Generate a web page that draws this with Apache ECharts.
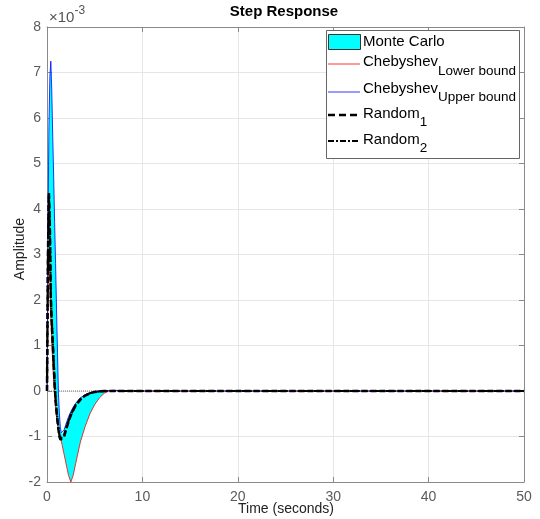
<!DOCTYPE html>
<html><head><meta charset="utf-8">
<script src="https://cdn.jsdelivr.net/npm/echarts@6/dist/echarts.min.js"></script>
<style>html,body{margin:0;padding:0;background:#fff}#c{width:540px;height:519px}</style>
</head><body><div id="c"></div>
<script>
// values in units of 1e-3
const time       = [0,0.1,0.2,0.3,0.4,0.5,0.6,0.7,0.8,0.9,1.0,1.1,1.2,1.3,1.4,1.5,1.6,1.8,2.0,2.25,2.5,2.75,3.0,3.5,4.0,4.5,5.0,5.5,6.0,6.5,7,8,9,10,20,30,40,50];
const upperBound = [0,3.5,5.8,6.9,7.25,6.6,5.6,4.7,3.7,2.8,1.8,0.85,-0.05,-0.5,-0.8,-0.92,-0.95,-0.85,-0.72,-0.57,-0.45,-0.35,-0.27,-0.15,-0.08,-0.04,-0.015,0,0.005,0.01,0.015,0.01,0.005,0,0,0,0,0];
const lowerBound = [0,2.0,3.0,2.6,1.6,1.1,0.6,0.2,-0.1,-0.38,-0.58,-0.72,-0.85,-0.95,-1.02,-1.1,-1.2,-1.4,-1.6,-1.85,-2.0,-1.85,-1.6,-1.12,-0.78,-0.5,-0.3,-0.15,-0.05,0,0.005,0.005,0,0,0,0,0,0];
const random1    = [0,3.0,4.35,3.6,2.0,1.5,1.05,0.6,0.15,-0.2,-0.45,-0.65,-0.85,-1.0,-1.07,-1.1,-1.1,-1.0,-0.85,-0.68,-0.53,-0.42,-0.32,-0.19,-0.1,-0.05,-0.02,-0.01,0,0,0,0,0,0,0,0,0,0];
const random2    = [0,2.9,4.3,3.5,2.1,1.55,1.1,0.65,0.2,-0.15,-0.42,-0.63,-0.82,-0.97,-1.05,-1.08,-1.07,-0.97,-0.83,-0.66,-0.52,-0.41,-0.31,-0.18,-0.1,-0.05,-0.02,-0.01,0,0,0,0,0,0,0,0,0,0];
const xTicks = [0,10,20,30,40,50];
const yTicks = [-2,-1,0,1,2,3,4,5,6,7,8];

const FONT = "'Liberation Sans', Arial, sans-serif";
const pair = arr => time.map((t,i)=>[t, arr[i]]);

const cvs = document.createElement('canvas').getContext('2d');
function tw(txt, size){ cvs.font = size + 'px ' + FONT; return cvs.measureText(txt).width; }

const chart = echarts.init(document.getElementById('c'), null, {renderer:'canvas'});
const axisCol = '#8a8a8a';
const lx = 363;
const MAIN = 15, SUB = 13.5;
function mainSub(main, sub, yMain, ySub){
  const w = tw(main, MAIN);
  return [
    {type:'text', x:lx, y:yMain, style:{text:main, font:MAIN+'px '+FONT, fill:'#000', verticalAlign:'middle'}},
    {type:'text', x:lx+w, y:ySub, style:{text:sub, font:SUB+'px '+FONT, fill:'#000', verticalAlign:'middle'}}
  ];
}
const graphic = [
  {type:'text', x:284, y:12, style:{text:'Step Response', font:'bold 15px '+FONT, fill:'#000', align:'center', verticalAlign:'middle'}},
  {type:'text', x:49, y:18, style:{text:'\u00d710', font:'15px '+FONT, fill:'#555', verticalAlign:'middle'}},
  {type:'text', x:49+tw('\u00d710',15), y:11, style:{text:'-3', font:'12px '+FONT, fill:'#555', verticalAlign:'middle'}},
  {type:'text', x:286, y:509, style:{text:'Time (seconds)', font:'14px '+FONT, fill:'#222', align:'center', verticalAlign:'middle'}},
  {type:'text', x:20, y:249, rotation:Math.PI/2, style:{text:'Amplitude', font:'14px '+FONT, fill:'#222', align:'center', verticalAlign:'middle'}},
  {type:'rect', shape:{x:326.5, y:30.5, width:193, height:128}, style:{fill:'#fff', stroke:'#666', lineWidth:1}},
  {type:'rect', shape:{x:328.5, y:34.5, width:32, height:15}, style:{fill:'#00ffff', stroke:'#333', lineWidth:1}},
  {type:'line', shape:{x1:328, y1:64, x2:360, y2:64}, style:{stroke:'#ff0000', lineWidth:0.8}},
  {type:'line', shape:{x1:328, y1:92, x2:360, y2:92}, style:{stroke:'#0000ff', lineWidth:0.8}},
  {type:'line', shape:{x1:328, y1:115, x2:360, y2:115}, style:{stroke:'#000', lineWidth:2.5, lineDash:[7,4]}},
  {type:'line', shape:{x1:328, y1:141, x2:360, y2:141}, style:{stroke:'#000', lineWidth:2.2, lineDash:[6,2,2,2]}},
  {type:'text', x:lx, y:42, style:{text:'Monte Carlo', font:MAIN+'px '+FONT, fill:'#000', verticalAlign:'middle'}}
].concat(mainSub('Chebyshev','Lower bound',62,71))
 .concat(mainSub('Chebyshev','Upper bound',89,97))
 .concat(mainSub('Random','1',114,122))
 .concat(mainSub('Random','2',140,148))
 .map(e => Object.assign({z:100}, e));

const lineBase = {type:'line', showSymbol:false, symbol:'none', animation:false, silent:true};
chart.setOption({
  animation:false,
  grid:{left:47, right:16, top:27, bottom:37, containLabel:false},
  xAxis:[
    {type:'value', min:0, max:50, interval:10,
     axisLine:{show:true, onZero:false, lineStyle:{color:axisCol}},
     axisTick:{inside:true, length:5, lineStyle:{color:axisCol}},
     axisLabel:{fontSize:14, color:'#5a5a5a', fontFamily:FONT, margin:8, formatter:v=>xTicks.includes(v)?String(v):''},
     splitLine:{show:true, lineStyle:{color:'#e6e6e6'}}},
    {type:'value', position:'top', min:0, max:50, interval:10,
     axisLine:{show:true, onZero:false, lineStyle:{color:axisCol}},
     axisTick:{inside:true, length:5, lineStyle:{color:axisCol}},
     axisLabel:{show:false}, splitLine:{show:false}}
  ],
  yAxis:[
    {type:'value', min:-2, max:8, interval:1,
     axisLine:{show:true, onZero:false, lineStyle:{color:axisCol}},
     axisTick:{inside:true, length:5, lineStyle:{color:axisCol}},
     axisLabel:{fontSize:14, color:'#5a5a5a', fontFamily:FONT, margin:6, formatter:v=>yTicks.includes(v)?String(v):''},
     splitLine:{show:true, lineStyle:{color:'#e6e6e6'}}},
    {type:'value', position:'right', min:-2, max:8, interval:1,
     axisLine:{show:true, onZero:false, lineStyle:{color:axisCol}},
     axisTick:{inside:true, length:5, lineStyle:{color:axisCol}},
     axisLabel:{show:false}, splitLine:{show:false}}
  ],
  series:[
    {type:'custom', name:'Monte Carlo', silent:true, animation:false, z:2, data:[0],
     renderItem:function(params, api){
       const pts = [];
       for (let i=0;i<time.length;i++) pts.push(api.coord([time[i], upperBound[i]]));
       for (let i=time.length-1;i>=0;i--) pts.push(api.coord([time[i], lowerBound[i]]));
       return {type:'polygon', shape:{points:pts}, style:{fill:'#00ffff', stroke:null}};
     }},
    Object.assign({}, lineBase, {name:'zero', data:[[0,0],[50,0]], lineStyle:{color:'#777', type:'dotted', width:1}, z:1}),
    Object.assign({}, lineBase, {name:'Chebyshev lower', data:pair(lowerBound), lineStyle:{color:'#ff0000', width:0.8}, z:3}),
    Object.assign({}, lineBase, {name:'Chebyshev upper', data:pair(upperBound), lineStyle:{color:'#0000ff', width:0.8}, z:3}),
    Object.assign({}, lineBase, {name:'Random1', data:pair(random1), lineStyle:{color:'#000', width:2.5, type:[6,3]}, z:4}),
    Object.assign({}, lineBase, {name:'Random2', data:pair(random2), lineStyle:{color:'#000', width:2.2, type:[6,2,2,2]}, z:4})
  ],
  graphic:graphic
});
</script></body></html>
